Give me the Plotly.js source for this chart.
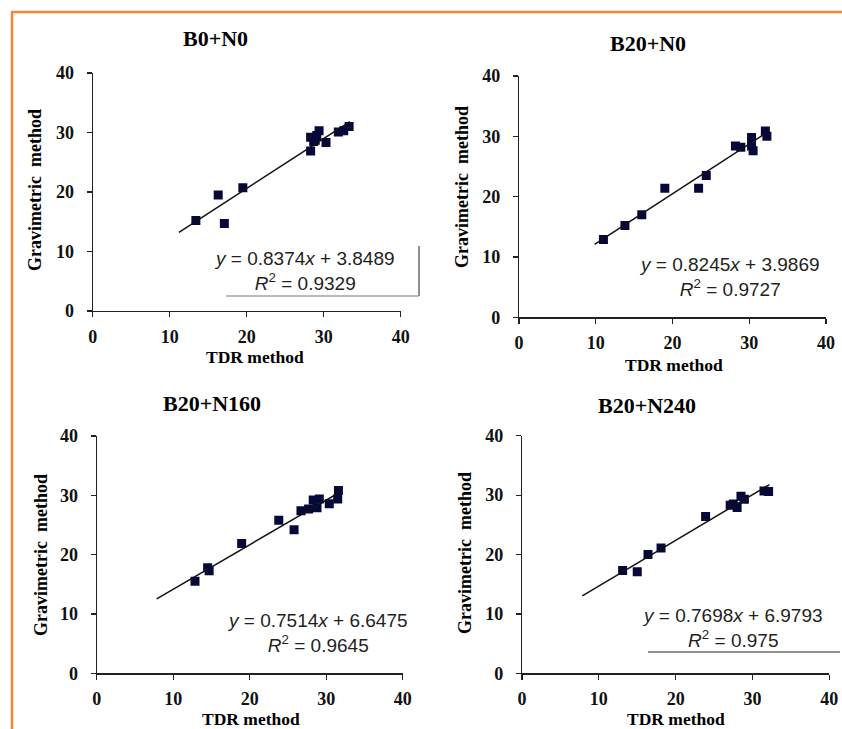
<!DOCTYPE html>
<html>
<head>
<meta charset="utf-8">
<script src="https://cdn.plot.ly/plotly-3.0.1.min.js"></script>
<style>
html,body{margin:0;padding:0;background:#fff;}
#chart{width:842px;height:729px;}
</style>
</head>
<body>
<div id="chart"></div>
<script>
// ---- Data ----
const panelTitles = ["B0+N0", "B20+N0", "B20+N160", "B20+N240"];
const xTitle = "TDR method";
const yTitle = "Gravimetric  method";
const tickVals = [0, 10, 20, 30, 40];

const tdr_B0N0 = [13.4, 16.3, 17.1, 19.5, 28.3, 28.3, 28.9, 29.4, 29.1, 28.7, 30.3, 31.9, 32.6, 33.3];
const grav_B0N0 = [15.2, 19.5, 14.7, 20.7, 26.9, 29.2, 28.7, 30.3, 29.5, 28.5, 28.3, 30.1, 30.3, 31.0];

const tdr_B20N0 = [11.0, 13.8, 16.0, 19.0, 23.4, 24.4, 28.2, 28.9, 30.3, 30.3, 30.5, 32.1, 32.3];
const grav_B20N0 = [12.9, 15.2, 17.0, 21.4, 21.4, 23.5, 28.4, 28.2, 29.8, 28.4, 27.6, 30.9, 30.0];

const tdr_B20N160 = [12.85, 14.5, 14.7, 18.95, 23.8, 25.8, 26.7, 27.7, 28.3, 29.1, 28.8, 30.4, 31.5, 31.6];
const grav_B20N160 = [15.5, 17.8, 17.3, 21.9, 25.8, 24.2, 27.4, 27.7, 29.2, 29.4, 27.9, 28.6, 29.4, 30.8];

const tdr_B20N240 = [13.1, 15.0, 16.4, 18.1, 23.9, 27.1, 27.5, 28.0, 28.5, 28.95, 31.5, 32.1];
const grav_B20N240 = [17.3, 17.1, 20.0, 21.1, 26.4, 28.3, 28.5, 27.9, 29.8, 29.3, 30.7, 30.6];

const slopes = [0.8374, 0.8245, 0.7514, 0.7698];
const intercepts = [3.8489, 3.9869, 6.6475, 6.9793];
const r2Labels = ["0.9329", "0.9727", "0.9645", "0.975"];
const fitStart = [11.2, 9.85, 7.84, 7.85];
const fitEnd = [33.4, 32.2, 31.6, 32.2];

const tdrSets = [tdr_B0N0, tdr_B20N0, tdr_B20N160, tdr_B20N240];
const gravSets = [grav_B0N0, grav_B20N0, grav_B20N160, grav_B20N240];

// ---- Layout geometry (pixels) ----
const W = 842, H = 729;
const boxes = [
  {x0: 92.7, x1: 400.7, yb: 311, yt: 73},
  {x0: 519, x1: 826, yb: 317.3, yt: 76},
  {x0: 96.7, x1: 402.7, yb: 673.3, yt: 436},
  {x0: 522, x1: 829.3, yb: 673.3, yt: 435.7}
];
const titlePos = [[215, 38], [648, 43], [212, 403], [647, 405]];
const xTitlePos = [[255, 357], [674, 365], [251, 719], [676, 719]];
const yTitlePos = [[35, 190], [462, 187], [41, 555], [465, 553]];
const eqPos = [[304, 271], [729, 277], [317, 633], [732, 628]];

const px = v => v / W;
const py = v => 1 - v / H;

const serif = "Liberation Serif, Times New Roman, serif";
const sans = "Liberation Sans, Arial, sans-serif";

const traces = [];
const layout = {
  width: W, height: H,
  margin: {l: 0, r: 0, t: 0, b: 0},
  paper_bgcolor: "#ffffff",
  plot_bgcolor: "rgba(0,0,0,0)",
  showlegend: false,
  annotations: [],
  shapes: []
};

for (let i = 0; i < 4; i++) {
  const n = i === 0 ? "" : String(i + 1);
  const b = boxes[i];
  traces.push({
    type: "scatter", mode: "markers",
    x: tdrSets[i], y: gravSets[i],
    xaxis: "x" + n, yaxis: "y" + n,
    marker: {symbol: "square", size: 9, color: "#06083a", line: {width: 0}},
    hoverinfo: "x+y"
  });
  const fx = [fitStart[i], fitEnd[i]];
  const fy = fx.map(v => slopes[i] * v + intercepts[i]);
  traces.push({
    type: "scatter", mode: "lines",
    x: fx, y: fy,
    xaxis: "x" + n, yaxis: "y" + n,
    line: {color: "#111111", width: 1.5},
    hoverinfo: "skip"
  });
  const common = {
    range: [0, 40], tickmode: "array", tickvals: tickVals,
    ticktext: tickVals.map(v => "<b>" + v + "</b>"),
    showgrid: false, zeroline: false, showline: true,
    linecolor: "#222", linewidth: 1.2,
    ticks: "outside", ticklen: 5, tickcolor: "#222", tickwidth: 1.2,
    tickfont: {family: serif, size: 18, color: "#111"},
    fixedrange: true
  };
  layout["xaxis" + n] = Object.assign({}, common, {
    domain: [px(b.x0), px(b.x1)],
    anchor: "y" + n,
    ticklabelstandoff: 4
  });
  layout["yaxis" + n] = Object.assign({}, common, {
    domain: [py(b.yb), py(b.yt)],
    anchor: "x" + n,
    ticklabelstandoff: 9
  });
  layout.annotations.push({
    xref: "paper", yref: "paper", x: px(titlePos[i][0]), y: py(titlePos[i][1]),
    xanchor: "center", yanchor: "middle", showarrow: false,
    text: "<b>" + panelTitles[i] + "</b>",
    font: {family: serif, size: 22, color: "#000"}
  });
  layout.annotations.push({
    xref: "paper", yref: "paper", x: px(xTitlePos[i][0]), y: py(xTitlePos[i][1]),
    xanchor: "center", yanchor: "middle", showarrow: false,
    text: "<b>" + xTitle + "</b>",
    font: {family: serif, size: 17.5, color: "#000"}
  });
  layout.annotations.push({
    xref: "paper", yref: "paper", x: px(yTitlePos[i][0]), y: py(yTitlePos[i][1]),
    xanchor: "center", yanchor: "middle", showarrow: false, textangle: -90,
    text: "<b>" + yTitle + "</b>",
    font: {family: serif, size: 18, color: "#000"}
  });
  layout.annotations.push({
    xref: "paper", yref: "paper", x: px(eqPos[i][0]), y: py(eqPos[i][1]),
    xanchor: "center", yanchor: "middle", showarrow: false, align: "center",
    text: "<i>y</i> = " + slopes[i] + "<i>x</i> + " + intercepts[i] +
          "<br><i>R</i><sup>2</sup> = " + r2Labels[i],
    font: {family: sans, size: 19, color: "#231f20"}
  });
}

// orange frame (top and left) and stray rule lines seen in the reference
const orange = "#F7853A";
layout.shapes.push(
  {type: "line", xref: "paper", yref: "paper", x0: px(11), x1: 1, y0: py(12), y1: py(12), line: {color: orange, width: 2.5}},
  {type: "line", xref: "paper", yref: "paper", x0: px(12), x1: px(12), y0: py(11), y1: 0, line: {color: orange, width: 2.5}},
  {type: "line", xref: "paper", yref: "paper", x0: px(419), x1: px(419), y0: py(246), y1: py(296), line: {color: "#222", width: 1}},
  {type: "line", xref: "paper", yref: "paper", x0: px(226), x1: px(419), y0: py(296), y1: py(296), line: {color: "#777", width: 1}},
  {type: "line", xref: "paper", yref: "paper", x0: px(648), x1: px(840), y0: py(652), y1: py(652), line: {color: "#222", width: 1}}
);

Plotly.newPlot("chart", traces, layout, {displayModeBar: false, staticPlot: true});
</script>
</body>
</html>
